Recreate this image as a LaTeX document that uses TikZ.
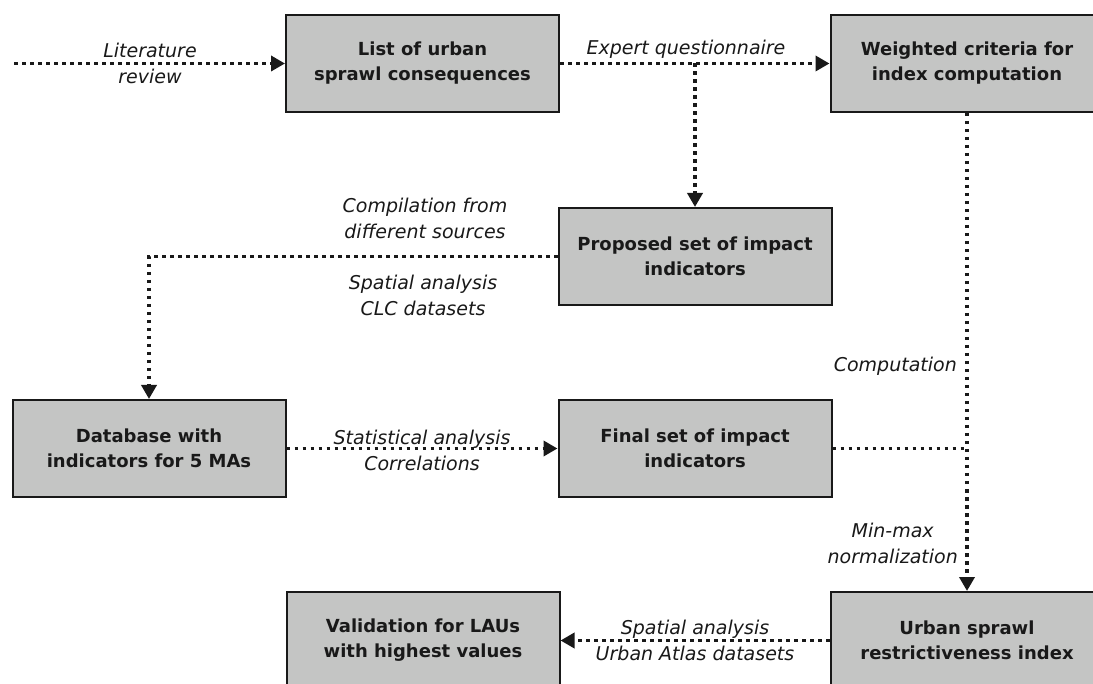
\documentclass[tikz,border=0pt]{standalone}
\usepackage{fontspec}
\setmainfont{DejaVu Sans}
\usetikzlibrary{arrows.meta}
\definecolor{boxgray}{RGB}{196,197,196}
\definecolor{ink}{RGB}{25,25,25}
\begin{document}
\begin{tikzpicture}[x=1pt,y=-1pt,
  box/.style={draw=ink, line width=2pt, fill=boxgray, minimum width=273pt,
    minimum height=97pt, align=center, inner sep=0pt, text=ink,
    font=\fontsize{18}{25}\selectfont\bfseries},
  flow/.style={draw=ink, line width=3.5pt, dash pattern=on 3.5pt off 4.5pt},
  arr/.style={flow, -{Triangle[length=14pt,width=15pt]}},
  lab/.style={align=center, inner sep=0pt, text=ink,
    font=\fontsize{19}{26}\selectfont\itshape}]
\useasboundingbox (0,0) rectangle (1093,684);
\fill[white] (0,0) rectangle (1093,684);
% boxes
\node[box] (A) at (422.5,63.5) {List of urban\\sprawl consequences};
\node[box] (B) at (967,63.5) {Weighted criteria for\\index computation};
\node[box] (C) at (695,256.5) {Proposed set of impact\\indicators};
\node[box] (D) at (149,448.5) {Database with\\indicators for 5 MAs};
\node[box] (E) at (695,448.5) {Final set of impact\\indicators};
\node[box] (F) at (423,640.5) {Validation for LAUs\\with highest values};
\node[box] (G) at (967,640.5) {Urban sprawl\\restrictiveness index};
% connector helpers
\coordinate (start) at (14,63.5);
\coordinate (split) at (695,63.5);
\coordinate (join) at (967,448.5);
% connectors
\draw[arr] (start) -- (A.west);
\draw[arr] (A.east) -- (B.west);
\draw[arr] (split) -- (C.north);
\draw[arr] (C.west) -| (D.north);
\draw[arr] (D.east) -- (E.west);
\draw[arr] (B.south) -- (G.north);
\draw[flow] (E.east) -- (join);
\draw[arr] (G.west) -- (F.east);
% labels
\node[lab] (l1) at (150,63) {Literature\\review};
\node[lab] (l2) at (686,49) {Expert questionnaire};
\node[lab] (l3) at (425,218) {Compilation from\\different sources};
\node[lab] (l4) at (423,295) {Spatial analysis\\CLC datasets};
\node[lab] (l5) at (422,450) {Statistical analysis\\Correlations};
\node[lab, anchor=east] (l6) at (957,366) {Computation};
\node[lab, anchor=east] (l7) at (958,543) {Min-max\\normalization};
\node[lab] (l8) at (695,640) {Spatial analysis\\Urban Atlas datasets};
\end{tikzpicture}
\end{document}
